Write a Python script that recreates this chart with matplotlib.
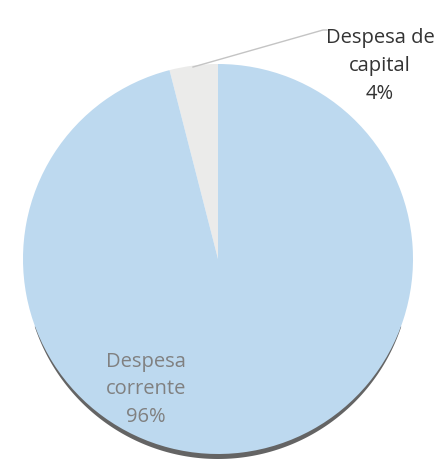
import numpy as np
import matplotlib.pyplot as plt

categories = ["Despesa de\ncapital", "Despesa\ncorrente"]
values = [4, 96]
colors = ["#ebebea", "#bdd9ef"]

W, H = 439, 461
fig = plt.figure(figsize=(W / 100, H / 100), dpi=100)
ax = fig.add_axes([0, 0, 1, 1])

cx, cy, r = 218, H - 259, 195
# soft tapered shadow along the lower edge (decoration)
th = np.linspace(np.radians(200), np.radians(340), 200)
taper = np.sin(np.pi * (th - th[0]) / (th[-1] - th[0]))
d = 4.0 * taper
xo = cx + (r + d) * np.cos(th)
yo = cy - 1 + (r + d) * np.sin(th)
xi = cx + (r - 3) * np.cos(th[::-1])
yi = cy + (r - 3) * np.sin(th[::-1])
ax.fill(np.r_[xo, xi], np.r_[yo, yi], color="#646464", lw=0, zorder=0)

wedges, _ = ax.pie(values, colors=colors, startangle=90, counterclock=True,
                   center=(cx, cy), radius=r, frame=True,
                   wedgeprops=dict(linewidth=0, zorder=1))
ax.set_xlim(0, W)
ax.set_ylim(0, H)
ax.set_aspect("auto")
ax.axis("off")

font = ["Open Sans", "DejaVu Sans"]
ax.plot([193, 323, 327], [H - 67, H - 30, H - 30], color="#c4c4c4", lw=1, zorder=3)
ax.text(380, H - 66, f"{categories[0]}\n{values[0]}%", ha="center", va="center",
        fontsize=14.5, color="#333333", family=font, linespacing=1.55)
ax.text(146, H - 389, f"{categories[1]}\n{values[1]}%", ha="center", va="center",
        fontsize=14.5, color="#808080", family=font, linespacing=1.5)

fig.savefig("out.png", dpi=100)
